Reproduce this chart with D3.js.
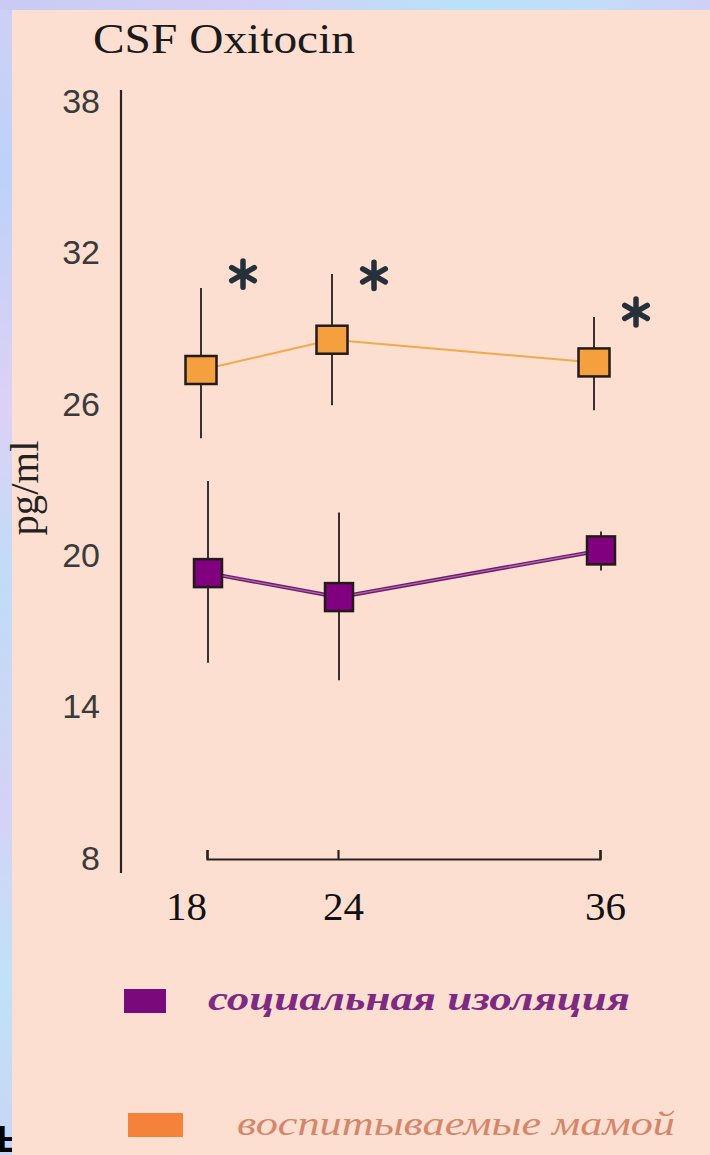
<!DOCTYPE html>
<html>
<head>
<meta charset="utf-8">
<script src="https://cdn.jsdelivr.net/npm/d3@7"></script>
<style>
    body { margin: 0; background: #fcdfd1; }
    svg { display: block; }
</style>
</head>
<body>
<div id="chart"></div>
<script>

const ages = [18, 24, 36];
const yTicks = [8, 14, 20, 26, 32, 38];

// social isolation (purple)
const isolatedMean = [19.25, 18.3, 20.15];
const isolatedLow = [15.7, 15.0, 19.35];
const isolatedHigh = [22.9, 21.65, 20.9];

// mother reared (orange)
const motherMean = [27.3, 28.5, 27.6];
const motherLow = [24.6, 25.9, 25.7];
const motherHigh = [30.55, 31.1, 29.4];

// where the * marks sit
const sigMarkY = [31.1, 31.05, 29.6];

const legendLabels = ["социальная изоляция", "воспитываемые мамой"];

class OxitocinChart
{
    constructor(div)
    {
        this.div = d3.select(div);
    }

    frame(svg)
    {
        let defs = svg.append("defs");

        let topGrad = defs.append("linearGradient").attr("id", "topGrad");
        [["0%", "#c9cbf4"], ["35%", "#d3cff6"], ["65%", "#b9e2f8"], ["85%", "#c4dcf8"], ["100%", "#cfd0f6"]]
            .forEach(s => topGrad.append("stop").attr("offset", s[0]).attr("stop-color", s[1]));

        let leftGrad = defs.append("linearGradient").attr("id", "leftGrad")
            .attr("x1", 0).attr("y1", 0).attr("x2", 0).attr("y2", 1);
        [["0%", "#cfd0f6"], ["15%", "#bcd2f8"], ["35%", "#ddd0f6"], ["50%", "#bfdcf8"], ["70%", "#d4d2f6"], ["85%", "#c0e2f8"], ["100%", "#c9d4f6"]]
            .forEach(s => leftGrad.append("stop").attr("offset", s[0]).attr("stop-color", s[1]));

        svg.append("rect").attr("width", 710).attr("height", 1155).attr("fill", "url(#leftGrad)");
        svg.append("rect").attr("width", 710).attr("height", 10).attr("fill", "url(#topGrad)");

        // piece of a letter from the slide behind
        svg.append("text")
            .attr("x", -3).attr("y", 1152)
            .attr("font-family", "Liberation Sans, Arial, sans-serif")
            .attr("font-weight", "bold")
            .attr("font-size", 36)
            .attr("fill", "#000")
            .text("Ь");

        svg.append("rect")
            .attr("x", 12).attr("y", 10)
            .attr("width", 698).attr("height", 1145)
            .attr("fill", "#fcdfd1");
    }

    plot()
    {
        let svg = this.div.append("svg")
            .attr("width", 710)
            .attr("height", 1155);

        this.frame(svg);

        let xScale = d3.scaleLinear()
            .domain([18, 36])
            .range([207, 600]);

        let yScale = d3.scaleLinear()
            .domain([8, 38])
            .range([857, 100]);

        let serif = "Liberation Serif, Times New Roman, serif";

        //Title
        svg.append("text")
            .attr("x", 93).attr("y", 53)
            .attr("font-family", serif)
            .attr("font-size", 42)
            .attr("fill", "#1a1a1a")
            .attr("textLength", 262)
            .attr("lengthAdjust", "spacingAndGlyphs")
            .text("CSF Oxitocin");

        //Add the y Axis
        let yAxis = svg.append("g")
            .attr("transform", "translate(121,0)")
            .call(d3.axisLeft(yScale).tickValues(yTicks).tickSize(0).tickPadding(21));

        yAxis.select(".domain").remove();
        yAxis.selectAll("text")
            .attr("font-family", "Liberation Sans, Arial, sans-serif")
            .attr("font-size", 34)
            .attr("fill", "#3a3a3a")
            .attr("dy", "0.36em");

        yAxis.append("line")
            .attr("y1", yScale(38) - 10)
            .attr("y2", yScale(8) + 16)
            .attr("stroke", "#2a2222")
            .attr("stroke-width", 2.2);

        svg.append("text")
            .attr("transform", "translate(38," + 488 + ") rotate(-90)")
            .attr("text-anchor", "middle")
            .attr("font-family", serif)
            .attr("font-size", 40)
            .attr("fill", "#222")
            .attr("textLength", 95)
            .attr("lengthAdjust", "spacingAndGlyphs")
            .text("pg/ml");

        //Add the x Axis
        let xAxis = svg.append("g")
            .attr("transform", "translate(0,859)")
            .call(d3.axisBottom(xScale).tickValues(ages).tickSize(-9).tickSizeOuter(-9).tickFormat(d3.format("d")));

        xAxis.select(".domain").attr("stroke", "#2a2222").attr("stroke-width", 2.2);
        xAxis.selectAll(".tick line").attr("stroke", "#2a2222").attr("stroke-width", 2.2);
        xAxis.selectAll("text")
            .attr("y", 61)
            .attr("dy", 0)
            .attr("dx", d => d === 18 ? -21 : 5)
            .attr("font-family", serif)
            .attr("font-size", 41)
            .attr("fill", "#111");

        let series = [
            { mean: motherMean, low: motherLow, high: motherHigh, shift: -6, fill: "#f4a03e", w: 31, h: 28 },
            { mean: isolatedMean, low: isolatedLow, high: isolatedHigh, shift: 1, fill: "#800080", w: 28, h: 28 }
        ];

        let plot = svg.append("g");

        // error bars first, squares go over them
        series.forEach(s => {
            plot.selectAll(null)
                .data(ages)
                .enter().append("line")
                .attr("x1", (d) => { return xScale(d) + s.shift; })
                .attr("x2", (d) => { return xScale(d) + s.shift; })
                .attr("y1", (d, i) => { return yScale(s.high[i]); })
                .attr("y2", (d, i) => { return yScale(s.low[i]); })
                .attr("stroke", "#3a3030")
                .attr("stroke-width", 2);
        });

        let line = (s) => d3.line()
            .x((d) => xScale(d) + s.shift)
            .y((d, i) => yScale(s.mean[i]));

        // orange connecting line
        plot.append("path")
            .attr("d", line(series[0])(ages))
            .attr("fill", "none")
            .attr("stroke", "#f1a94c")
            .attr("stroke-width", 2);

        // purple line has a darker edge
        plot.append("path")
            .attr("d", line(series[1])(ages))
            .attr("fill", "none")
            .attr("stroke", "#6b1e6b")
            .attr("stroke-width", 4);
        plot.append("path")
            .attr("d", line(series[1])(ages))
            .attr("fill", "none")
            .attr("stroke", "#b565b0")
            .attr("stroke-width", 1.3);

        series.forEach(s => {
            plot.selectAll(null)
                .data(ages)
                .enter().append("rect")
                .attr("x", (d) => { return xScale(d) + s.shift - s.w / 2; })
                .attr("y", (d, i) => { return yScale(s.mean[i]) - s.h / 2; })
                .attr("width", s.w)
                .attr("height", s.h)
                .attr("fill", s.fill)
                .attr("stroke", "#231a1a")
                .attr("stroke-width", 2.5);
        });

        //Significance marks
        plot.selectAll(".star")
            .data(ages)
            .enter().append("path")
            .attr("class", "star")
            .attr("d", d3.symbol(d3.symbolAsterisk, 480))
            .attr("transform", (d, i) => "translate(" + (xScale(d) + 36) + "," + yScale(sigMarkY[i]) + ")")
            .attr("fill", "none")
            .attr("stroke", "#25303a")
            .attr("stroke-width", 5.5)
            .attr("stroke-linecap", "round");

        //Legend
        let legend = svg.append("g");

        legend.append("rect")
            .attr("x", 124).attr("y", 989)
            .attr("width", 42).attr("height", 24)
            .attr("fill", "#7a0a7c");
        legend.append("text")
            .attr("x", 208).attr("y", 1010)
            .attr("font-family", serif)
            .attr("font-style", "italic")
            .attr("font-weight", "bold")
            .attr("font-size", 34)
            .attr("fill", "#7c2a82")
            .attr("textLength", 422)
            .attr("lengthAdjust", "spacingAndGlyphs")
            .text(legendLabels[0]);

        legend.append("rect")
            .attr("x", 128).attr("y", 1113)
            .attr("width", 55).attr("height", 24)
            .attr("fill", "#f5823a");
        legend.append("text")
            .attr("x", 237).attr("y", 1135)
            .attr("font-family", serif)
            .attr("font-style", "italic")
            .attr("font-size", 34)
            .attr("fill", "#d4866a")
            .attr("textLength", 438)
            .attr("lengthAdjust", "spacingAndGlyphs")
            .text(legendLabels[1]);
    }
}

let chart = new OxitocinChart("#chart");
chart.plot();

</script>
</body>
</html>
